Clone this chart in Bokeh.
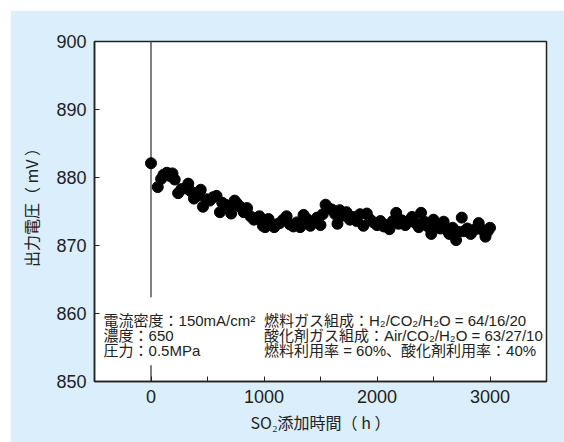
from bokeh.plotting import figure
from bokeh.models import Range1d, FixedTicker
from bokeh.core.properties import value
from bokeh.embed import file_html
from bokeh.resources import INLINE

# ---- data ----
hours = [0, 60, 90, 110, 140, 170, 190, 210, 240, 270, 300, 330, 350, 380, 410, 440,
         460, 490, 520, 550, 580, 610, 630, 660, 690, 710, 740, 760, 790, 820, 850,
         880, 910, 940, 960, 990, 1010, 1040, 1060, 1090, 1110, 1140, 1170, 1200,
         1230, 1260, 1290, 1320, 1350, 1380, 1410, 1440, 1470, 1500, 1520, 1545,
         1570, 1600, 1630, 1650, 1670, 1700, 1730, 1760, 1790, 1820, 1850, 1880,
         1910, 1940, 1970, 2000, 2030, 2060, 2090, 2110, 2140, 2170, 2190, 2220,
         2250, 2280, 2310, 2340, 2370, 2390, 2420, 2450, 2480, 2500, 2530, 2560,
         2590, 2620, 2640, 2670, 2700, 2720, 2750, 2770, 2800, 2830, 2860, 2900,
         2930, 2960, 2980, 3000]
voltage = [882.1, 878.6, 879.8, 880.4, 880.7, 880.2, 880.6, 879.7, 877.7, 878.3,
           878.4, 879.1, 878.0, 876.9, 877.3, 878.2, 875.7, 876.8, 876.6, 877.1,
           877.3, 874.9, 876.3, 876.0, 875.8, 874.7, 876.6, 876.2, 875.7, 874.9,
           875.5, 874.3, 873.8, 874.0, 874.3, 872.9, 872.7, 873.9, 873.0, 872.7,
           873.1, 873.3, 873.8, 874.3, 873.1, 872.8, 873.4, 872.7, 874.5, 873.9,
           872.9, 873.5, 874.1, 873.0, 874.6, 876.0, 875.5, 875.3, 874.6, 873.2,
           875.2, 874.4, 874.9, 873.8, 874.2, 873.6, 874.6, 872.9, 874.7, 873.8,
           873.4, 873.0, 873.6, 872.8, 873.0, 872.4, 873.6, 874.8, 873.2, 873.7,
           873.0, 873.6, 874.2, 873.3, 872.7, 874.8, 873.5, 872.8, 871.7, 873.8,
           873.0, 872.5, 873.5, 872.2, 871.7, 872.6, 870.8, 872.0, 874.1, 872.1,
           872.5, 871.7, 872.3, 873.3, 872.3, 871.3, 872.1, 872.6]

x_major_ticks = [0, 1000, 2000, 3000]
x_minor_ticks = [-500, 500, 1500, 2500, 3500]
y_ticks = [850, 860, 870, 880, 890, 900]

# vertical reference line at SO2 start (broken behind the note text)
vline_x = [0, 0]
vline_y0 = [900, 852.4]
vline_y1 = [862.4, 850]

x_title = "SO₂添加時間（ h ）"
y_title = "\u3000出力電圧（ mV ）"

left_notes = ["電流密度：150mA/cm²", "濃度：650", "圧力：0.5MPa"]
right_notes = ["燃料ガス組成：H₂/CO₂/H₂O = 64/16/20",
               "酸化剤ガス組成：Air/CO₂/H₂O = 63/27/10",
               "燃料利用率 = 60%、酸化剤利用率：40%"]
note_y = [859.0, 856.75, 854.5]
left_note_x = [-420, -420, -420]
right_note_x = [1000, 1000, 1000]

BG = "#dbeefb"
INK = "#222222"
FONT = "Liberation Sans, Noto Sans CJK JP"
JFONT = "Noto Sans CJK JP"

p = figure(width=554, height=432, output_backend="svg", toolbar_location=None,
           x_range=Range1d(-500, 3500), y_range=Range1d(850, 900),
           min_border_left=84, min_border_right=18, min_border_top=31,
           min_border_bottom=61)
p.margin = (10, 0, 0, 10)
p.border_fill_color = BG
p.background_fill_color = "white"
p.outline_line_color = INK
p.outline_line_width = 1.5
p.xgrid.visible = False
p.ygrid.visible = False

p.xaxis.ticker = FixedTicker(ticks=x_major_ticks, minor_ticks=x_minor_ticks)
p.yaxis.ticker = FixedTicker(ticks=y_ticks, minor_ticks=[])

for ax in (p.xaxis, p.yaxis):
    ax.axis_line_color = INK
    ax.axis_line_width = 1.5
    ax.major_tick_line_color = INK
    ax.minor_tick_line_color = INK
    ax.major_tick_in = 5
    ax.major_tick_out = 0
    ax.minor_tick_in = 5
    ax.minor_tick_out = 0
    ax.major_label_text_font = FONT
    ax.major_label_text_font_size = "18px"
    ax.major_label_text_color = INK
    ax.axis_label_text_font = JFONT
    ax.axis_label_text_font_size = "16px"
    ax.axis_label_text_font_style = "normal"
    ax.axis_label_text_color = INK

p.xaxis.axis_label = x_title
p.yaxis.axis_label = y_title
p.xaxis.major_label_standoff = 8
p.xaxis.axis_label_standoff = 4
p.yaxis.major_label_standoff = 8
p.yaxis.axis_label_standoff = 10

p.segment(x0=vline_x, y0=vline_y0, x1=vline_x, y1=vline_y1,
          line_color="#555555", line_width=1.5)

p.scatter(hours, voltage, size=11, fill_color="black", line_color="black")

p.text(x=left_note_x, y=note_y, text=left_notes, text_font=value(FONT),
       text_font_size="15px", text_color=INK, text_baseline="middle",
       text_align="left")
p.text(x=right_note_x, y=note_y, text=right_notes, text_font=value(FONT),
       text_font_size="15px", text_color=INK, text_baseline="middle",
       text_align="left")

open("out.html", "w").write(file_html(p, INLINE))
